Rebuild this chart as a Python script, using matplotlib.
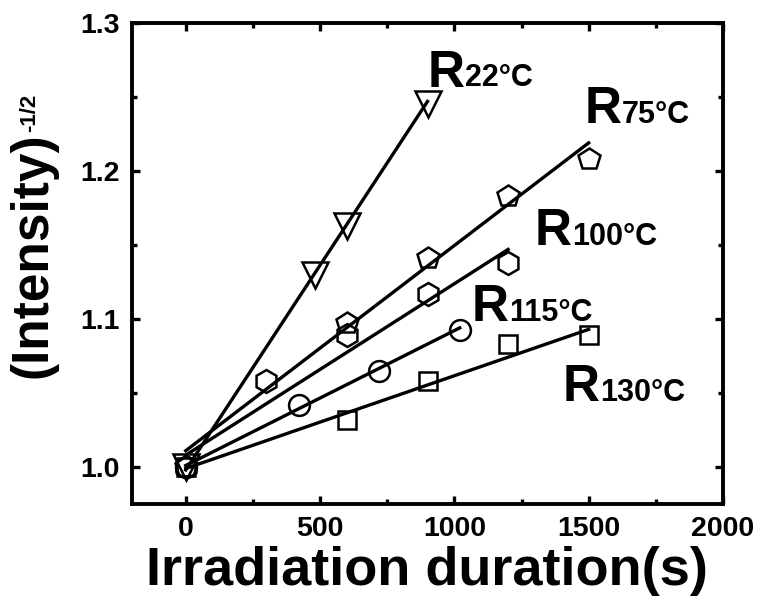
import matplotlib
matplotlib.use("Agg")
import matplotlib.pyplot as plt
from matplotlib.ticker import MultipleLocator, FormatStrFormatter

plt.rcParams["font.family"] = ["Liberation Sans", "DejaVu Sans"]
plt.rcParams["font.weight"] = "bold"

# irradiation time (s) and (Intensity)^-1/2
T22 = [0, 480, 600, 900]
Y22 = [1.000, 1.130, 1.163, 1.245]
T75 = [0, 600, 900, 1200, 1500]
Y75 = [1.000, 1.097, 1.141, 1.183, 1.208]
T100 = [0, 300, 600, 900, 1200]
Y100 = [1.000, 1.058, 1.089, 1.117, 1.138]
T115 = [0, 420, 720, 1020]
Y115 = [1.000, 1.042, 1.065, 1.0925]
T130 = [0, 600, 900, 1200, 1500]
Y130 = [1.000, 1.032, 1.058, 1.083, 1.089]

# straight-line fits as drawn (start / end)
FIT_T = [[0, 900], [0, 1500], [0, 1200], [0, 1020], [0, 1500]]
FIT_Y = [[0.998, 1.247], [1.011, 1.219], [1.008, 1.147], [1.001, 1.094], [0.999, 1.093]]

LABELS = ["22°C", "75°C", "100°C", "115°C", "130°C"]
LABEL_T = [901, 1486, 1300, 1065, 1404]
LABEL_Y = [1.257, 1.2326, 1.150, 1.0985, 1.0443]

SERIES = [(T22, Y22, "v", 19), (T75, Y75, "p", 16.5), (T100, Y100, "h", 16.5),
          (T115, Y115, "o", 15), (T130, Y130, "s", 13)]

fig = plt.figure(figsize=(7.58, 6.0), dpi=100)
ax = fig.add_axes([132 / 758, 1 - 504 / 600, (723 - 132) / 758, (504 - 23) / 600])

for (t, y, m, ms), ft, fy in zip(SERIES, FIT_T, FIT_Y):
    ax.plot(ft, fy, "-", color="black", lw=2.4, zorder=2)
    ax.plot(t, y, m, ms=ms, mfc="none", mec="black", mew=1.8, ls="none", zorder=3)

for lab, lx, ly in zip(LABELS, LABEL_T, LABEL_Y):
    r = ax.text(lx, ly, "R", fontsize=37, va="baseline", ha="left")
    ax.annotate(lab, xy=(1, 0), xycoords=r, xytext=(0, 3), textcoords="offset points",
                fontsize=22, va="bottom", ha="left")

ax.set_xlim(-200, 2000)
ax.set_ylim(0.975, 1.3)
ax.xaxis.set_major_locator(MultipleLocator(500))
ax.xaxis.set_minor_locator(MultipleLocator(250))
ax.yaxis.set_major_locator(MultipleLocator(0.1))
ax.yaxis.set_minor_locator(MultipleLocator(0.05))
ax.yaxis.set_major_formatter(FormatStrFormatter("%.1f"))
ax.tick_params(which="both", direction="in", top=True, right=True, width=2.4,
               labelsize=20.5, pad=9)
ax.tick_params(which="major", length=6)
ax.tick_params(which="minor", length=3.5)
for s in ax.spines.values():
    s.set_linewidth(2.8)

fig.text(427 / 758, 1 - 571 / 600, "Irradiation duration(s)", fontsize=39,
         ha="center", va="center")
fig.text(33 / 758, 1 - 255 / 600, "(Intensity)", fontsize=37,
         ha="center", va="center", rotation=90)
fig.text(30 / 758, 1 - 113 / 600, "-1/2", fontsize=16,
         ha="center", va="center", rotation=90)

fig.savefig("out.png", dpi=100)
